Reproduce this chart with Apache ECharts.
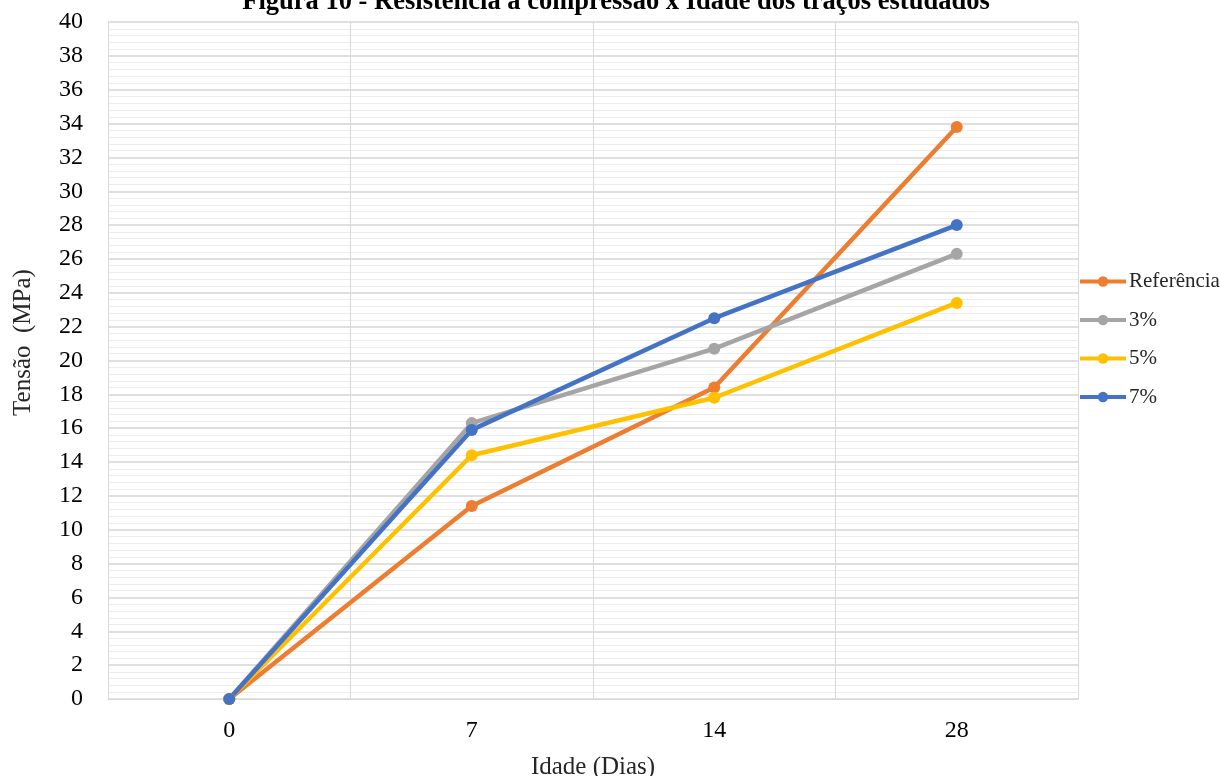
<!DOCTYPE html>
<html><head><meta charset="utf-8">
<script src="https://cdn.jsdelivr.net/npm/echarts@6/dist/echarts.min.js"></script>
<style>html,body{margin:0;padding:0;background:#fff}#c{width:1221px;height:776px}</style>
</head><body><div id="c"></div>
<script>
const categories = ['0', '7', '14', '28'];
const seriesNames = ['Referência', '3%', '5%', '7%'];
const referencia = [0, 11.4, 18.4, 33.8];
const p3 = [0, 16.3, 20.7, 26.3];
const p5 = [0, 14.4, 17.8, 23.4];
const p7 = [0, 15.9, 22.5, 28.0];
const colors = ['#ED7D31', '#A5A5A5', '#FFC000', '#4472C4'];
const values = [referencia, p3, p5, p7];
const serif = 'Liberation Serif';

const chart = echarts.init(document.getElementById('c'));
chart.setOption({
  animation: false,
  backgroundColor: '#fff',
  title: {
    text: 'Figura 10 - Resistência à compressão x Idade dos traços estudados',
    left: 611, textAlign: 'center', top: -16,
    textStyle: { fontFamily: serif, fontSize: 26.5, fontWeight: 'bold', color: '#000' }
  },
  grid: { left: 108, right: 143, top: 22, bottom: 77, outerBoundsMode: 'none', containLabel: false },
  legend: {
    orient: 'vertical', left: 1073, top: 266, itemGap: 17.5,
    itemWidth: 46, itemHeight: 13,
    data: seriesNames,
    lineStyle: { width: 4 },
    textStyle: { fontFamily: serif, fontSize: 21, color: '#262626', padding: [0, 0, 0, -2] }
  },
  xAxis: {
    type: 'category', data: categories, boundaryGap: true,
    name: 'Idade (Dias)', nameLocation: 'middle', nameGap: 56,
    nameTextStyle: { fontFamily: serif, fontSize: 25, color: '#262626' },
    axisLine: { show: true, lineStyle: { color: '#d9d9d9' } },
    axisTick: { show: false },
    axisLabel: { fontFamily: serif, fontSize: 24, color: '#000', margin: 20 },
    splitLine: { show: true, interval: 0, lineStyle: { color: '#d9d9d9', width: 1 } }
  },
  yAxis: {
    type: 'value', min: 0, max: 40, interval: 2,
    name: 'Tensão  (MPa)', nameLocation: 'middle', nameGap: 72,
    nameTextStyle: { fontFamily: serif, fontSize: 25, color: '#262626', padding: [0, 0, 0, 36] },
    axisLine: { show: false }, axisTick: { show: false },
    axisLabel: { fontFamily: serif, fontSize: 24, color: '#000', margin: 25 },
    splitLine: { show: true, lineStyle: { color: '#d4d4d4', width: 1.5 } },
    minorTick: { show: false, splitNumber: 5 },
    minorSplitLine: { show: true, lineStyle: { color: '#ececec', width: 1 } }
  },
  series: seriesNames.map((n, i) => ({
    name: n, type: 'line', data: values[i],
    symbol: 'circle', symbolSize: 12,
    lineStyle: { color: colors[i], width: 4.5 },
    itemStyle: { color: colors[i] }
  }))
});
</script></body></html>
